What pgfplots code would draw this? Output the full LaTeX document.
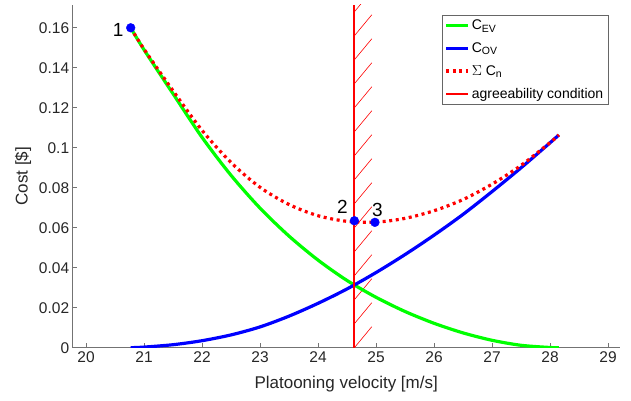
\documentclass[border=0pt]{standalone}
\usepackage{pgfplots}
\pgfplotsset{compat=1.18}
\usepackage{fontspec}
\setmainfont{Liberation Sans}

\definecolor{axgray}{rgb}{0.15,0.15,0.15}
\pgfplotsset{shortleg/.style={legend image code/.code={\draw[##1] (0pt,0pt) -- (22pt,0pt);}}}
\newcommand{\sub}[1]{\raisebox{-0.35ex}{\fontsize{10.5}{12}\selectfont #1}}

\begin{document}
\begin{tikzpicture}
\begin{axis}[
    name=ax,
    scale only axis,
    width=547pt, height=342.7pt,
    xmin=19.77, xmax=29.2,
    ymin=0, ymax=0.1714,
    axis x line*=bottom, axis y line*=left,
    axis line style={black!55, line width=0.8pt, -},
    xtick={20,21,...,29},
    ytick={0,0.02,...,0.16},
    scaled y ticks=false,
    yticklabel style={/pgf/number format/fixed, /pgf/number format/precision=2},
    /pgf/number format/assume math mode=true,
    tick align=inside,
    major tick length=4.5pt,
    tick style={black!55, line width=0.6pt},
    ticklabel style={font=\fontsize{15.5}{18}\selectfont, text=axgray},
    xlabel={Platooning velocity [m/s]},
    ylabel={Cost [\$]},
    label style={font=\fontsize{17}{20}\selectfont, text=axgray},
    xlabel style={yshift=-7pt},
    ylabel style={yshift=1pt},
    legend style={at={(axis description cs:0.9786,0.9708)}, anchor=north east,
        draw=black!60, fill=white, font=\fontsize{14}{17}\selectfont,
        inner sep=2.5pt, row sep=7.5pt, text=black},
    legend cell align=left,
    shortleg,
]

% hatching of the agreeability condition
\addplot[red, line width=0.6pt, forget plot, unbounded coords=jump] table {
x y
24.626 0.000
24.926 0.0105
24.7 nan
24.626 0.012
24.926 0.0225
24.7 nan
24.626 0.024
24.926 0.0345
24.7 nan
24.626 0.036
24.926 0.0465
24.7 nan
24.626 0.048
24.926 0.0585
24.7 nan
24.626 0.060
24.926 0.0705
24.7 nan
24.626 0.072
24.926 0.0825
24.7 nan
24.626 0.084
24.926 0.0945
24.7 nan
24.626 0.096
24.926 0.1065
24.7 nan
24.626 0.108
24.926 0.1185
24.7 nan
24.626 0.120
24.926 0.1305
24.7 nan
24.626 0.132
24.926 0.1425
24.7 nan
24.626 0.144
24.926 0.1545
24.7 nan
24.626 0.156
24.926 0.1665
24.7 nan
24.626 0.168
24.926 0.1785
};

% C_EV
\addplot[color={rgb,1:red,0;green,1;blue,0}, line width=3.2pt, smooth] coordinates {
(20.77,0.1600)(21.0,0.1490)(21.5,0.1270)(22.0,0.1052)(22.5,0.0862)
(23.0,0.0698)(23.5,0.0558)(24.0,0.0438)(24.5,0.0336)(25.0,0.0252)
(25.5,0.0181)(26.0,0.0122)(26.5,0.0074)(27.0,0.0037)(27.5,0.0012)
(28.0,0.0001)(28.15,0)
};
\addlegendentry{C\sub{EV}}

% C_OV
\addplot[blue, line width=3.2pt, smooth] coordinates {
(20.77,0)(21.0,0.0003)(21.5,0.0015)(22.0,0.0035)(22.5,0.0064)
(23.0,0.0104)(23.5,0.0158)(24.0,0.0222)(24.5,0.0294)(25.0,0.0376)
(25.5,0.0466)(26.0,0.0563)(26.5,0.0667)(27.0,0.0781)(27.5,0.0900)
(28.0,0.1025)(28.15,0.1064)
};
\addlegendentry{C\sub{OV}}

% sum
\addplot[red, line width=3.2pt, smooth, dash pattern=on 3pt off 3.6pt] coordinates {
(20.77,0.1600)(21.0,0.1493)(21.5,0.1285)(22.0,0.1087)(22.5,0.0926)
(23.0,0.0802)(23.5,0.0716)(24.0,0.0660)(24.5,0.0632)(25.0,0.0628)
(25.5,0.0647)(26.0,0.0685)(26.5,0.0741)(27.0,0.0818)(27.5,0.0912)
(28.0,0.1026)(28.15,0.1064)
};
\addlegendentry{$\Sigma$ C\sub{n}}

% agreeability condition
\addplot[red, line width=2.2pt] coordinates {(24.626,0)(24.626,0.1714)};
\addlegendentry{agreeability condition}

% points
\addplot[only marks, mark=*, blue, mark size=4.4pt, forget plot] coordinates {
(20.77,0.1600)(24.626,0.0635)(24.98,0.0627)
};

\node[font=\fontsize{19}{21}\selectfont] at (axis cs:20.77,0.1600) [xshift=-12.5pt, yshift=-2.5pt] {1};
\node[font=\fontsize{19}{21}\selectfont] at (axis cs:24.626,0.0635) [xshift=-12pt, yshift=14pt] {2};
\node[font=\fontsize{19}{21}\selectfont] at (axis cs:24.98,0.0627) [xshift=2.5pt, yshift=12.7pt] {3};
\end{axis}
\pgfresetboundingbox
\path ([shift={(-72.7pt,-53.3pt)}]ax.south west) rectangle ([shift={(11.3pt,5pt)}]ax.north east);
\end{tikzpicture}
\end{document}
